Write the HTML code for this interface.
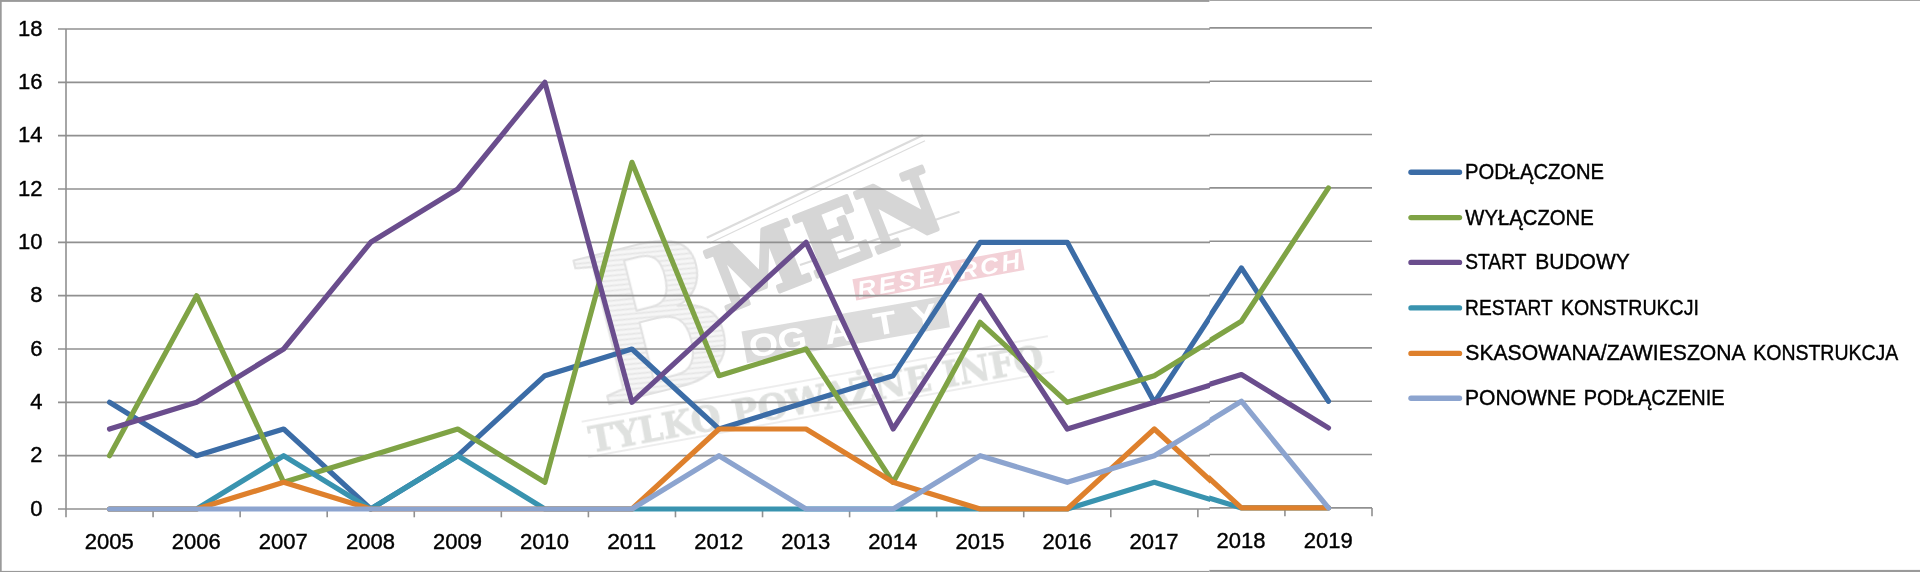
<!DOCTYPE html>
<html lang="pl"><head><meta charset="utf-8"><title>Wykres</title>
<style>html,body{margin:0;padding:0;background:#fff;}body{width:1920px;height:572px;overflow:hidden;}svg{display:block;filter:blur(0.45px);}text{font-family:"Liberation Sans",sans-serif;}.t{stroke:#000;stroke-width:0.4px;}.sb{font-family:"DejaVu Serif",serif;font-weight:bold;}.lb{font-family:"Liberation Serif",serif;font-weight:bold;}</style></head><body>
<svg width="1920" height="572" viewBox="0 0 1920 572">
<defs>
<clipPath id="cl"><rect x="0" y="0" width="1210" height="572"/></clipPath>
<clipPath id="cr"><rect x="1209.4" y="0" width="720" height="572"/></clipPath>
<pattern id="hatch" width="9" height="5" patternUnits="userSpaceOnUse" patternTransform="rotate(8)"><rect width="9" height="5" fill="#e3e3e3"/><line x1="0" y1="1.5" x2="9" y2="1.5" stroke="#a0a0a0" stroke-width="1.6"/></pattern>
<g id="chart">
<line x1="58.0" y1="509.00" x2="1372.0" y2="509.00" stroke="#909090" stroke-width="1.6"/>
<line x1="58.0" y1="455.67" x2="1372.0" y2="455.67" stroke="#909090" stroke-width="1.6"/>
<line x1="58.0" y1="402.33" x2="1372.0" y2="402.33" stroke="#909090" stroke-width="1.6"/>
<line x1="58.0" y1="349.00" x2="1372.0" y2="349.00" stroke="#909090" stroke-width="1.6"/>
<line x1="58.0" y1="295.67" x2="1372.0" y2="295.67" stroke="#909090" stroke-width="1.6"/>
<line x1="58.0" y1="242.33" x2="1372.0" y2="242.33" stroke="#909090" stroke-width="1.6"/>
<line x1="58.0" y1="189.00" x2="1372.0" y2="189.00" stroke="#909090" stroke-width="1.6"/>
<line x1="58.0" y1="135.67" x2="1372.0" y2="135.67" stroke="#909090" stroke-width="1.6"/>
<line x1="58.0" y1="82.33" x2="1372.0" y2="82.33" stroke="#909090" stroke-width="1.6"/>
<line x1="58.0" y1="29.00" x2="1372.0" y2="29.00" stroke="#909090" stroke-width="1.6"/>
<line x1="66.0" y1="29.0" x2="66.0" y2="517.3" stroke="#909090" stroke-width="1.6"/>
<line x1="153.07" y1="509.0" x2="153.07" y2="517.3" stroke="#909090" stroke-width="1.6"/>
<line x1="240.13" y1="509.0" x2="240.13" y2="517.3" stroke="#909090" stroke-width="1.6"/>
<line x1="327.20" y1="509.0" x2="327.20" y2="517.3" stroke="#909090" stroke-width="1.6"/>
<line x1="414.27" y1="509.0" x2="414.27" y2="517.3" stroke="#909090" stroke-width="1.6"/>
<line x1="501.33" y1="509.0" x2="501.33" y2="517.3" stroke="#909090" stroke-width="1.6"/>
<line x1="588.40" y1="509.0" x2="588.40" y2="517.3" stroke="#909090" stroke-width="1.6"/>
<line x1="675.47" y1="509.0" x2="675.47" y2="517.3" stroke="#909090" stroke-width="1.6"/>
<line x1="762.53" y1="509.0" x2="762.53" y2="517.3" stroke="#909090" stroke-width="1.6"/>
<line x1="849.60" y1="509.0" x2="849.60" y2="517.3" stroke="#909090" stroke-width="1.6"/>
<line x1="936.67" y1="509.0" x2="936.67" y2="517.3" stroke="#909090" stroke-width="1.6"/>
<line x1="1023.73" y1="509.0" x2="1023.73" y2="517.3" stroke="#909090" stroke-width="1.6"/>
<line x1="1110.80" y1="509.0" x2="1110.80" y2="517.3" stroke="#909090" stroke-width="1.6"/>
<line x1="1197.87" y1="509.0" x2="1197.87" y2="517.3" stroke="#909090" stroke-width="1.6"/>
<line x1="1284.93" y1="509.0" x2="1284.93" y2="517.3" stroke="#909090" stroke-width="1.6"/>
<line x1="1372.00" y1="509.0" x2="1372.00" y2="517.3" stroke="#909090" stroke-width="1.6"/>
<polyline points="109.53,402.33 196.60,455.67 283.67,429.00 370.73,509.00 457.80,455.67 544.87,375.67 631.93,349.00 719.00,429.00 806.07,402.33 893.13,375.67 980.20,242.33 1067.27,242.33 1154.33,402.33 1241.40,269.00 1328.47,402.33" fill="none" stroke="#3b6ca6" stroke-width="5.2" stroke-linecap="round" stroke-linejoin="round"/>
<polyline points="109.53,455.67 196.60,295.67 283.67,482.33 370.73,455.67 457.80,429.00 544.87,482.33 631.93,162.33 719.00,375.67 806.07,349.00 893.13,482.33 980.20,322.33 1067.27,402.33 1154.33,375.67 1241.40,322.33 1328.47,189.00" fill="none" stroke="#7fa345" stroke-width="5.2" stroke-linecap="round" stroke-linejoin="round"/>
<polyline points="109.53,429.00 196.60,402.33 283.67,349.00 370.73,242.33 457.80,189.00 544.87,82.33 631.93,402.33 719.00,322.33 806.07,242.33 893.13,429.00 980.20,295.67 1067.27,429.00 1154.33,402.33 1241.40,375.67 1328.47,429.00" fill="none" stroke="#6a4d8d" stroke-width="5.2" stroke-linecap="round" stroke-linejoin="round"/>
<polyline points="109.53,509.00 196.60,509.00 283.67,455.67 370.73,509.00 457.80,455.67 544.87,509.00 631.93,509.00 719.00,509.00 806.07,509.00 893.13,509.00 980.20,509.00 1067.27,509.00 1154.33,482.33 1241.40,509.00 1328.47,509.00" fill="none" stroke="#3993af" stroke-width="5.2" stroke-linecap="round" stroke-linejoin="round"/>
<polyline points="109.53,509.00 196.60,509.00 283.67,482.33 370.73,509.00 457.80,509.00 544.87,509.00 631.93,509.00 719.00,429.00 806.07,429.00 893.13,482.33 980.20,509.00 1067.27,509.00 1154.33,429.00 1241.40,509.00 1328.47,509.00" fill="none" stroke="#de802c" stroke-width="5.2" stroke-linecap="round" stroke-linejoin="round"/>
<polyline points="109.53,509.00 196.60,509.00 283.67,509.00 370.73,509.00 457.80,509.00 544.87,509.00 631.93,509.00 719.00,455.67 806.07,509.00 893.13,509.00 980.20,455.67 1067.27,482.33 1154.33,455.67 1241.40,402.33 1328.47,509.00" fill="none" stroke="#8ca4cf" stroke-width="5.2" stroke-linecap="round" stroke-linejoin="round"/>
</g>
</defs>
<rect x="0" y="0" width="1920" height="572" fill="#fff"/>
<g id="wm" opacity="0.30">
<text transform="translate(606,405) rotate(-14) scale(0.92,1)" font-size="224" class="lb" fill="url(#hatch)" stroke="#9c9c9c" stroke-width="2.2" stroke-linejoin="round">B</text>
<line x1="706.8" y1="237.7" x2="922.8" y2="135.2" stroke="#8a8a8a" stroke-width="2.2"/>
<line x1="709.5" y1="243.2" x2="925.0" y2="140.8" stroke="#8a8a8a" stroke-width="1.2"/>
<line x1="800" y1="265" x2="959.5" y2="211.8" stroke="#8a8a8a" stroke-width="2.2"/>
<text transform="translate(725,313) rotate(-21.5) scale(0.98,1)" font-size="88" class="sb" fill="#767676" stroke="#767676" stroke-width="4.2" stroke-linejoin="round">MEN</text>
<g transform="translate(852.4,279.3) rotate(-10.3)"><rect x="0" y="0" width="171" height="21.5" fill="#d6667a"/><text transform="translate(3,19.3) scale(1.12,1)" font-size="23" font-weight="bold" font-style="italic" fill="#fff" letter-spacing="2.6">RESEARCH</text></g>
<g transform="translate(741.5,331.4) rotate(-10)"><rect x="0" y="0" width="206" height="32" fill="#8a8a8a"/><text transform="translate(0,27.8) scale(1.18,1)" x="16.4 41.1 80.3 121.0 154.9" font-size="32" font-weight="bold" fill="#fff" text-anchor="middle">OGATY</text></g>
<g transform="translate(591,450.5) rotate(-10.4)"><line x1="-4" y1="-30" x2="470" y2="-30" stroke="#8a8a8a" stroke-width="1.2"/><line x1="-4" y1="6" x2="470" y2="6" stroke="#8a8a8a" stroke-width="1.2"/><text transform="translate(0,1.5) scale(0.985,1)" font-size="35" class="sb" fill="#959b95" stroke="#959b95" stroke-width="0.8" xml:space="preserve">TYLKO POWAŻNE INFO</text></g>
</g>
<g clip-path="url(#cl)"><use href="#chart"/></g>
<g clip-path="url(#cr)"><use href="#chart" transform="translate(0,-1.1)"/></g>
<g class="t" font-size="22.6" text-anchor="end">
<text x="42.6" y="35.50" textLength="24.50" lengthAdjust="spacingAndGlyphs">18</text>
<text x="42.6" y="88.83" textLength="24.50" lengthAdjust="spacingAndGlyphs">16</text>
<text x="42.6" y="142.17" textLength="24.50" lengthAdjust="spacingAndGlyphs">14</text>
<text x="42.6" y="195.50" textLength="24.50" lengthAdjust="spacingAndGlyphs">12</text>
<text x="42.6" y="248.83" textLength="24.50" lengthAdjust="spacingAndGlyphs">10</text>
<text x="42.6" y="302.17" textLength="12.25" lengthAdjust="spacingAndGlyphs">8</text>
<text x="42.6" y="355.50" textLength="12.25" lengthAdjust="spacingAndGlyphs">6</text>
<text x="42.6" y="408.83" textLength="12.25" lengthAdjust="spacingAndGlyphs">4</text>
<text x="42.6" y="462.17" textLength="12.25" lengthAdjust="spacingAndGlyphs">2</text>
<text x="42.6" y="515.50" textLength="12.25" lengthAdjust="spacingAndGlyphs">0</text>
</g>
<g class="t" font-size="22.6" text-anchor="middle">
<text x="109.23" y="549.0" textLength="49.0" lengthAdjust="spacingAndGlyphs">2005</text>
<text x="196.30" y="549.0" textLength="49.0" lengthAdjust="spacingAndGlyphs">2006</text>
<text x="283.37" y="549.0" textLength="49.0" lengthAdjust="spacingAndGlyphs">2007</text>
<text x="370.43" y="549.0" textLength="49.0" lengthAdjust="spacingAndGlyphs">2008</text>
<text x="457.50" y="549.0" textLength="49.0" lengthAdjust="spacingAndGlyphs">2009</text>
<text x="544.57" y="549.0" textLength="49.0" lengthAdjust="spacingAndGlyphs">2010</text>
<text x="631.63" y="549.0" textLength="49.0" lengthAdjust="spacingAndGlyphs">2011</text>
<text x="718.70" y="549.0" textLength="49.0" lengthAdjust="spacingAndGlyphs">2012</text>
<text x="805.77" y="549.0" textLength="49.0" lengthAdjust="spacingAndGlyphs">2013</text>
<text x="892.83" y="549.0" textLength="49.0" lengthAdjust="spacingAndGlyphs">2014</text>
<text x="979.90" y="549.0" textLength="49.0" lengthAdjust="spacingAndGlyphs">2015</text>
<text x="1066.97" y="549.0" textLength="49.0" lengthAdjust="spacingAndGlyphs">2016</text>
<text x="1154.03" y="549.0" textLength="49.0" lengthAdjust="spacingAndGlyphs">2017</text>
<text x="1241.10" y="547.9" textLength="49.0" lengthAdjust="spacingAndGlyphs">2018</text>
<text x="1328.17" y="547.9" textLength="49.0" lengthAdjust="spacingAndGlyphs">2019</text>
</g>
<line x1="1411" y1="172.3" x2="1459.5" y2="172.3" stroke="#3b6ca6" stroke-width="5.4" stroke-linecap="round"/>
<text class="t" y="179.3" font-size="21.5" xml:space="preserve"><tspan x="1465.06" textLength="138.96" lengthAdjust="spacingAndGlyphs">PODŁĄCZONE</tspan></text>
<line x1="1411" y1="217.6" x2="1459.5" y2="217.6" stroke="#7fa345" stroke-width="5.4" stroke-linecap="round"/>
<text class="t" y="224.6" font-size="21.5" xml:space="preserve"><tspan x="1465.3" textLength="128.42" lengthAdjust="spacingAndGlyphs">WYŁĄCZONE</tspan></text>
<line x1="1411" y1="262.4" x2="1459.5" y2="262.4" stroke="#6a4d8d" stroke-width="5.4" stroke-linecap="round"/>
<text class="t" y="269.4" font-size="21.5" xml:space="preserve"><tspan x="1465.3" textLength="60.72" lengthAdjust="spacingAndGlyphs">START</tspan> <tspan x="1535.22" textLength="94.51" lengthAdjust="spacingAndGlyphs">BUDOWY</tspan></text>
<line x1="1411" y1="307.9" x2="1459.5" y2="307.9" stroke="#3993af" stroke-width="5.4" stroke-linecap="round"/>
<text class="t" y="314.9" font-size="21.5" xml:space="preserve"><tspan x="1465.11" textLength="87.2" lengthAdjust="spacingAndGlyphs">RESTART</tspan> <tspan x="1560.89" textLength="138.11" lengthAdjust="spacingAndGlyphs">KONSTRUKCJI</tspan></text>
<line x1="1411" y1="353.4" x2="1459.5" y2="353.4" stroke="#de802c" stroke-width="5.4" stroke-linecap="round"/>
<text class="t" y="360.4" font-size="21.5" xml:space="preserve"><tspan x="1465.3" textLength="279.15" lengthAdjust="spacingAndGlyphs">SKASOWANA/ZAWIESZONA</tspan> <tspan x="1753.29" textLength="145.01" lengthAdjust="spacingAndGlyphs">KONSTRUKCJA</tspan></text>
<line x1="1411" y1="398.3" x2="1459.5" y2="398.3" stroke="#8ca4cf" stroke-width="5.4" stroke-linecap="round"/>
<text class="t" y="405.3" font-size="21.5" xml:space="preserve"><tspan x="1465.02" textLength="111.01" lengthAdjust="spacingAndGlyphs">PONOWNE</tspan> <tspan x="1583.67" textLength="140.95" lengthAdjust="spacingAndGlyphs">PODŁĄCZENIE</tspan></text>
<rect x="0" y="0" width="1209.4" height="1.9" fill="#9a9a9a"/>
<rect x="1209.4" y="0" width="711" height="0.9" fill="#9a9a9a"/>
<rect x="0" y="0" width="1.7" height="572" fill="#9a9a9a"/>
<rect x="0" y="570.9" width="1209.4" height="1.2" fill="#9a9a9a"/>
<rect x="1209.4" y="569.9" width="711" height="2.2" fill="#9a9a9a"/>
</svg></body></html>
